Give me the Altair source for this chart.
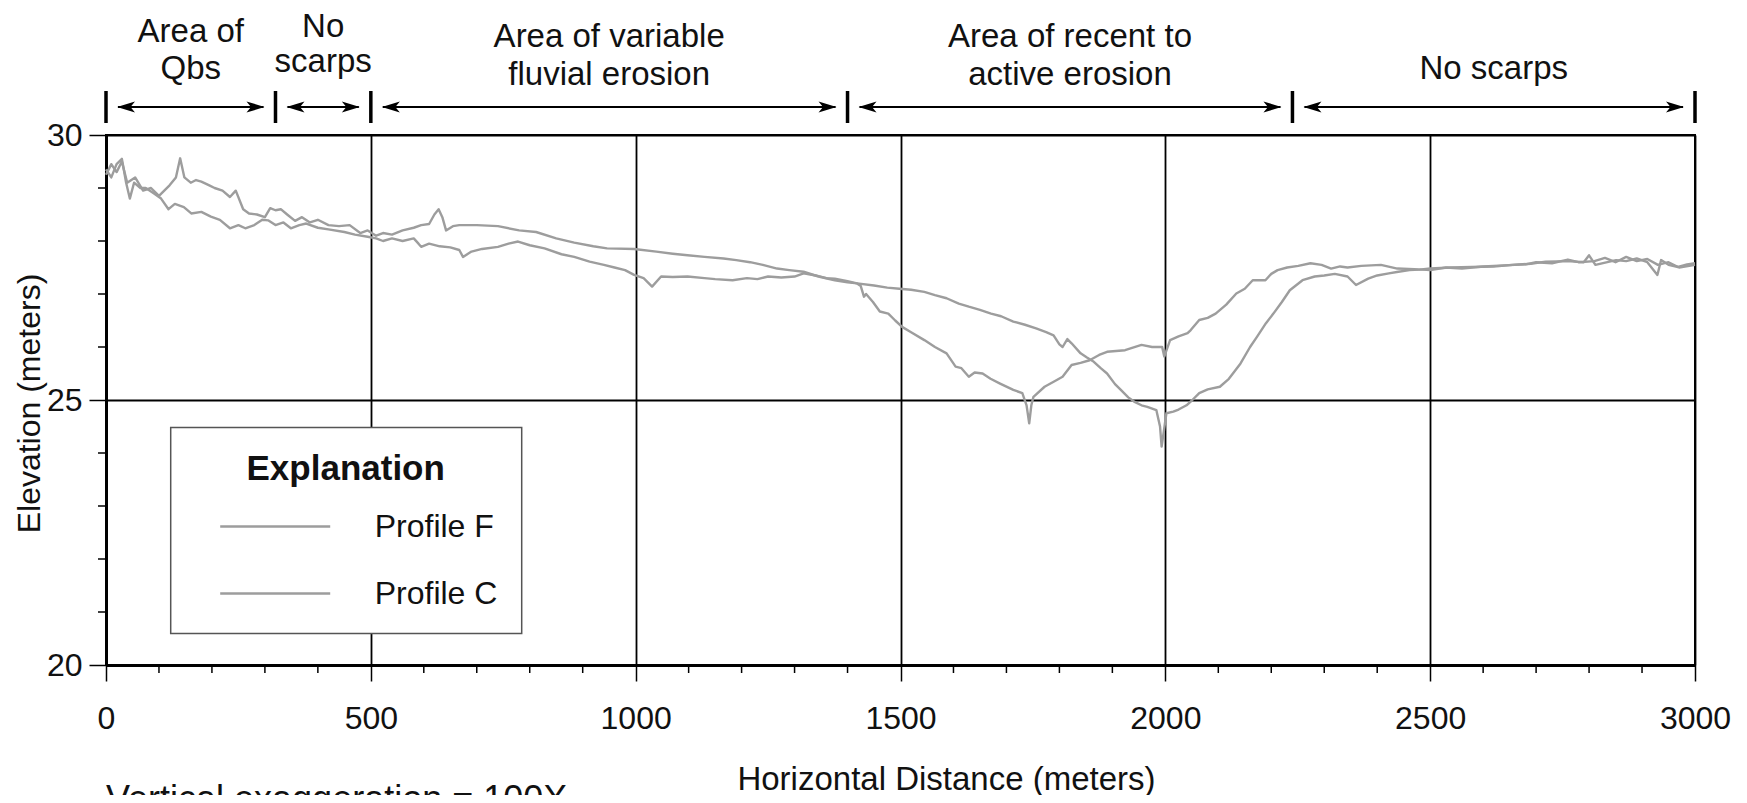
import altair as alt
import pandas as pd

FONT = "Liberation Sans, Arial, Helvetica, sans-serif"
LINE_GRAY = "#9d9d9d"
INK = "#111111"
NBSP = "\u00a0"

# ---------------- data ----------------
dist_f = [0, 10, 20, 30, 40, 55, 70, 85, 100, 110, 120, 132, 140, 148, 160, 170, 180, 195,
          205, 220, 234, 245, 259, 270, 285, 300, 310, 320, 330, 342, 357, 370, 385, 400,
          420, 440, 460, 480, 494, 510, 523, 540, 560, 581, 595, 610, 620, 628, 635, 642,
          655, 667, 700, 740, 780, 812, 850, 884, 920, 946, 997, 1039, 1070, 1098, 1130,
          1166, 1190, 1216, 1240, 1267, 1290, 1317, 1345, 1376, 1400, 1418, 1450, 1475,
          1498, 1520, 1545, 1565, 1587, 1610, 1629, 1650, 1671, 1690, 1713, 1735, 1756,
          1775, 1789, 1800, 1806, 1815, 1823, 1840, 1852, 1865, 1878, 1890, 1905, 1916,
          1930, 1941, 1955, 1966, 1983, 1990, 1993, 1997, 2002, 2015, 2025, 2040, 2051,
          2064, 2080, 2103, 2120, 2142, 2160, 2173, 2190, 2204, 2220, 2235, 2259, 2282,
          2300, 2320, 2344, 2360, 2383, 2400, 2422, 2440, 2461, 2480, 2500, 2540, 2578,
          2620, 2656, 2690, 2718, 2760, 2790, 2800, 2812, 2851, 2870, 2890, 2910, 2929,
          2936, 2950, 2968, 2985, 3000]
elev_f = [29.25, 29.45, 29.3, 29.5, 29.1, 29.2, 28.95, 29.0, 28.85, 28.95, 29.05, 29.2, 29.56,
          29.2, 29.1, 29.15, 29.12, 29.05, 29.0, 28.95, 28.83, 28.95, 28.6, 28.52, 28.5,
          28.45, 28.62, 28.58, 28.6, 28.5, 28.38, 28.45, 28.35, 28.4, 28.3, 28.28, 28.3,
          28.15, 28.2, 28.1, 28.15, 28.12, 28.2, 28.25, 28.3, 28.32, 28.5, 28.6, 28.45,
          28.2, 28.28, 28.3, 28.3, 28.28, 28.2, 28.17, 28.05, 27.97, 27.9, 27.86, 27.85,
          27.8, 27.76, 27.73, 27.7, 27.67, 27.64, 27.6, 27.55, 27.48, 27.45, 27.42, 27.33,
          27.26, 27.22, 27.2, 27.16, 27.12, 27.1, 27.08, 27.04, 26.98, 26.92, 26.82, 26.76,
          26.7, 26.63, 26.58, 26.48, 26.42, 26.35, 26.28, 26.22, 26.05, 26.0, 26.15, 26.07,
          25.88, 25.8, 25.72, 25.6, 25.5, 25.3, 25.19, 25.05, 24.97, 24.9, 24.87, 24.81,
          24.5, 24.12, 24.4, 24.75, 24.78, 24.82, 24.9, 25.0, 25.13, 25.2, 25.25, 25.4,
          25.69, 26.0, 26.19, 26.45, 26.63, 26.85, 27.07, 27.26, 27.33, 27.35, 27.38, 27.33,
          27.17, 27.29, 27.35, 27.39, 27.42, 27.45, 27.46, 27.48, 27.5, 27.51, 27.52, 27.55,
          27.57, 27.61, 27.62, 27.6, 27.73, 27.55, 27.64, 27.62, 27.67, 27.6, 27.36, 27.64,
          27.55, 27.51, 27.56, 27.58]

dist_c = [0, 10, 20, 30, 38, 45, 53, 65, 75, 90, 104, 118, 130, 147, 161, 180, 198, 215, 234,
          250, 263, 280, 295, 306, 320, 335, 349, 365, 378, 400, 420, 450, 470, 494, 510,
          523, 540, 560, 581, 590, 595, 610, 630, 650, 667, 674, 690, 710, 740, 760, 778,
          800, 828, 860, 884, 913, 940, 960, 980, 997, 1015, 1031, 1048, 1070, 1098, 1130,
          1150, 1183, 1210, 1230, 1250, 1275, 1300, 1317, 1340, 1360, 1376, 1400, 1418,
          1425, 1431, 1435, 1448, 1461, 1477, 1490, 1503, 1520, 1545, 1565, 1587, 1604,
          1615, 1629, 1640, 1655, 1670, 1688, 1713, 1730, 1738, 1743, 1747, 1751, 1772,
          1790, 1806, 1823, 1840, 1857, 1875, 1890, 1924, 1955, 1975, 1994, 1998, 2009,
          2025, 2042, 2048, 2064, 2080, 2095, 2115, 2134, 2150, 2165, 2189, 2200, 2212,
          2230, 2251, 2274, 2295, 2313, 2330, 2344, 2370, 2407, 2438, 2470, 2500, 2530,
          2560, 2600, 2640, 2680, 2700, 2730, 2760, 2780, 2810, 2830, 2850, 2870, 2890,
          2910, 2930, 2950, 2970, 3000]
elev_c = [29.35, 29.2, 29.45, 29.55, 29.1, 28.8, 29.1, 29.0, 29.0, 28.9, 28.8, 28.6, 28.7,
          28.64, 28.52, 28.55, 28.46, 28.4, 28.24, 28.3, 28.24, 28.3, 28.4, 28.39, 28.3,
          28.35, 28.24, 28.3, 28.33, 28.25, 28.22, 28.17, 28.12, 28.08, 28.05, 28.0, 28.05,
          28.0, 28.05, 27.95, 27.89, 27.95, 27.9, 27.88, 27.83, 27.7, 27.8, 27.85, 27.89,
          27.95, 27.99, 27.92, 27.86, 27.75, 27.7, 27.61, 27.55, 27.5, 27.45, 27.36, 27.3,
          27.14, 27.33, 27.32, 27.33, 27.3, 27.28, 27.26, 27.3, 27.28, 27.33, 27.31, 27.33,
          27.39, 27.35, 27.3, 27.29, 27.24, 27.2, 27.15, 26.95, 27.0, 26.85, 26.67, 26.63,
          26.5, 26.38, 26.28, 26.13, 26.0, 25.88, 25.63, 25.6, 25.44, 25.52, 25.5, 25.4,
          25.31, 25.19, 25.13, 24.9, 24.56, 24.9, 25.06, 25.25, 25.35, 25.44, 25.66, 25.7,
          25.75, 25.85, 25.91, 25.94, 26.04, 26.0, 26.0, 25.82, 26.13, 26.2, 26.26, 26.32,
          26.51, 26.55, 26.63, 26.8, 27.01, 27.1, 27.26, 27.26, 27.38, 27.45, 27.5, 27.53,
          27.58, 27.55, 27.48, 27.52, 27.5, 27.53, 27.55, 27.48, 27.47, 27.45, 27.5, 27.48,
          27.52, 27.54, 27.56, 27.6, 27.58, 27.65, 27.6, 27.62, 27.68, 27.6, 27.7, 27.62,
          27.66, 27.55, 27.6, 27.5, 27.55]

profile_names = ["Profile F", "Profile C"]

x_major = [0, 500, 1000, 1500, 2000, 2500, 3000]
x_minor = [100, 200, 300, 400, 600, 700, 800, 900, 1100, 1200, 1300, 1400, 1600, 1700,
           1800, 1900, 2100, 2200, 2300, 2400, 2600, 2700, 2800, 2900]
y_major = [20, 25, 30]
y_minor = [21, 22, 23, 24, 26, 27, 28, 29]

boundaries = [0, 320, 500, 1400, 2240, 3000]
region_line1 = ["Area of", "No", "Area of variable", "Area of recent to", ""]
region_line2 = ["Qbs", "scarps", "fluvial erosion", "active erosion", "No scarps"]

x_title = "Horizontal Distance (meters)"
y_title = "Elevation (meters)"
legend_title = "Explanation"
note_text = "Vertical exaggeration = 100X"

# ---------------- tables ----------------
profiles = pd.concat([
    pd.DataFrame({"distance": dist_f, "elevation": elev_f, "profile": profile_names[0]}),
    pd.DataFrame({"distance": dist_c, "elevation": elev_c, "profile": profile_names[1]}),
], ignore_index=True)

regions = pd.DataFrame({
    "distance": boundaries[:-1],
    "end": boundaries[1:],
    "line1": region_line1,
    "line2": region_line2,
})
bounds_df = pd.DataFrame({"distance": boundaries})
xminor_df = pd.DataFrame({"distance": x_minor})
yminor_df = pd.DataFrame({"elevation": y_minor})
note_df = pd.DataFrame({"t": [note_text]})

W, H = 1589, 530
x_scale = alt.Scale(domain=[0, 3000], nice=False, zero=False)
y_scale = alt.Scale(domain=[20, 30], nice=False, zero=False)

x_axis = alt.Axis(
    values=x_major, format="d", title=x_title, grid=True, gridColor="black", gridWidth=1.8,
    gridOpacity=1, domainColor="black", domainWidth=3, tickColor="black", tickWidth=1.5,
    tickSize=16, labelFontSize=32, labelFont=FONT, labelColor=INK, labelPadding=22,
    labelFlush=False, labelOverlap=False, labelBound=False,
    titleFontSize=33, titleFont=FONT, titleFontWeight="normal", titleColor=INK,
    titleX=840, titleY=124, titleAlign="center", titleBaseline="alphabetic",
)
y_axis = alt.Axis(
    values=y_major, format="d", title=y_title, grid=True, gridColor="black", gridWidth=1.8,
    gridOpacity=1, domainColor="black", domainWidth=3, tickColor="black", tickWidth=1.5,
    tickSize=17, labelFontSize=32, labelFont=FONT, labelColor=INK, labelPadding=7,
    labelFlush=False, labelOverlap=False, labelBound=False, labelBaseline="middle",
    titleFontSize=32, titleFont=FONT, titleFontWeight="normal", titleColor=INK,
    titleX=-77, titleY=268, titleAngle=270, titleAlign="center", titleBaseline="middle",
)

# non-breaking spaces widen the title so the box gets the reference's width
legend = alt.Legend(
    title=NBSP * 7 + legend_title + NBSP * 5, orient="none", legendX=64.7, legendY=292.6,
    direction="vertical", padding=24, fillColor="white", strokeColor="#555555",
    titleFontSize=35, titleFontWeight="bold", titleFont=FONT, titleColor=INK,
    titleAnchor="middle", titlePadding=25, titleLimit=500,
    symbolType="stroke", symbolSize=12100, symbolStrokeWidth=2.5, symbolOffset=24,
    clipHeight=30, rowPadding=35,
    labelFontSize=32, labelFont=FONT, labelColor=INK, labelOffset=43, labelLimit=300,
)

lines = alt.Chart(profiles).mark_line(strokeWidth=2.4, strokeJoin="round").encode(
    x=alt.X("distance:Q", scale=x_scale, axis=x_axis),
    y=alt.Y("elevation:Q", scale=y_scale, axis=y_axis),
    color=alt.Color("profile:N", sort=profile_names,
                    scale=alt.Scale(domain=profile_names, range=[LINE_GRAY, LINE_GRAY]),
                    legend=legend),
)

x_minor_ticks = alt.Chart(xminor_df).mark_rule(color="black", strokeWidth=1.5).encode(
    x=alt.X("distance:Q", scale=x_scale),
    y=alt.value(H), y2=alt.value(H + 8),
)
y_minor_ticks = alt.Chart(yminor_df).mark_rule(color="black", strokeWidth=1.5).encode(
    y=alt.Y("elevation:Q", scale=y_scale),
    x=alt.value(-8), x2=alt.value(0),
)

# region annotations above the plot
bars = alt.Chart(bounds_df).mark_rule(color="black", strokeWidth=3.5).encode(
    x=alt.X("distance:Q", scale=x_scale),
    y=alt.value(-44), y2=alt.value(-12),
)
shafts = alt.Chart(regions).mark_rule(color="black", strokeWidth=2, xOffset=12, x2Offset=-12).encode(
    x=alt.X("distance:Q", scale=x_scale), x2="end:Q",
    y=alt.value(-28),
)
RIGHT_HEAD = "M -1 -0.62 L 1 0 L -1 0.62 L -0.5 0 Z"
LEFT_HEAD = "M 1 -0.62 L -1 0 L 1 0.62 L 0.5 0 Z"
heads_r = alt.Chart(regions).mark_point(shape=RIGHT_HEAD, size=324, filled=True, color="black",
                                        opacity=1, xOffset=-20).encode(
    x=alt.X("end:Q", scale=x_scale), y=alt.value(-28),
)
heads_l = alt.Chart(regions).mark_point(shape=LEFT_HEAD, size=324, filled=True, color="black",
                                        opacity=1, xOffset=20).encode(
    x=alt.X("distance:Q", scale=x_scale), y=alt.value(-28),
)

# vertical placement (px above plot top) of each region's two text lines
line_y = [(-93, -56), (-98, -63), (-88, -50), (-88, -50), (None, -56)]
label_layers = []
for i in range(len(region_line2)):
    sub = regions.iloc[[i]].copy()
    y1, y2 = line_y[i]
    for field, yy in (("line1", y1), ("line2", y2)):
        if yy is None or not sub[field].iloc[0]:
            continue
        label_layers.append(
            alt.Chart(sub).mark_text(align="center", baseline="alphabetic", fontSize=33,
                                     font=FONT, color=INK)
            .transform_calculate(mid="(datum.distance + datum.end) / 2")
            .encode(x=alt.X("mid:Q", scale=x_scale), y=alt.value(yy),
                    text=alt.Text(f"{field}:N"))
        )

note = alt.Chart(note_df).mark_text(align="left", baseline="alphabetic", fontSize=36,
                                    font=FONT, color=INK).encode(
    x=alt.value(0), y=alt.value(676), text="t:N",
)

chart = alt.layer(
    lines, x_minor_ticks, y_minor_ticks, bars, shafts, heads_r, heads_l, *label_layers, note
).properties(
    width=W, height=H,
    autosize=alt.AutoSizeParams(type="none"),
    padding={"left": 98, "top": 127, "right": 44, "bottom": 130},
    background="white",
).configure_view(
    stroke="black", strokeWidth=2,
).configure_legend(
    strokeWidth=1.5,
)

chart.save("out.html", embed_options={"renderer": "svg", "actions": False})
